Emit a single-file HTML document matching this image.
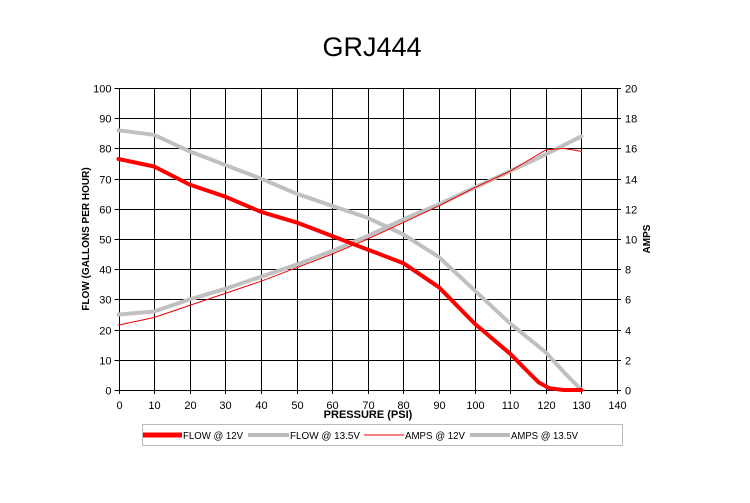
<!DOCTYPE html>
<html><head><meta charset="utf-8"><style>
body{margin:0;background:#fff;width:750px;height:498px;overflow:hidden;font-family:"Liberation Sans",Arial,sans-serif}
</style></head><body>
<svg id="s" width="750" height="498" xmlns="http://www.w3.org/2000/svg" font-family="Liberation Sans, Arial, sans-serif">
<text x="372" y="56" font-size="27" text-anchor="middle">GRJ444</text>
<g id="grid" stroke="#000" stroke-width="1"></g>
<g id="lbl" font-size="11" fill="#000"></g>
<text x="368" y="418" font-size="11" font-weight="bold" text-anchor="middle">PRESSURE (PSI)</text>
<text transform="translate(89,239) rotate(-90)" font-size="10" font-weight="bold" text-anchor="middle">FLOW (GALLONS PER HOUR)</text>
<text transform="translate(650,239) rotate(-90)" font-size="10" font-weight="bold" text-anchor="middle">AMPS</text>
<g id="ser" fill="none" stroke-linejoin="round" stroke-linecap="round"></g>
<rect x="142.5" y="424.5" width="480" height="21" fill="none" stroke="#bbb"/>
<line x1="143" y1="435" x2="182" y2="435" stroke="#f00" stroke-width="5"/>
<text x="183" y="439" font-size="10.5" textLength="60" lengthAdjust="spacingAndGlyphs">FLOW @ 12V</text>
<line x1="248" y1="435" x2="289" y2="435" stroke="#bbb" stroke-width="4"/>
<text x="290" y="439" font-size="10.5" textLength="70" lengthAdjust="spacingAndGlyphs">FLOW @ 13.5V</text>
<line x1="364" y1="435" x2="404" y2="435" stroke="#e00" stroke-width="1"/>
<text x="405" y="439" font-size="10.5" textLength="60" lengthAdjust="spacingAndGlyphs">AMPS @ 12V</text>
<line x1="470" y1="435" x2="510" y2="435" stroke="#bbb" stroke-width="4"/>
<text x="511" y="439" font-size="10.5" textLength="67" lengthAdjust="spacingAndGlyphs">AMPS @ 13.5V</text>
</svg>
<script>
var X0=118.5,X1=617,Y0=390,Y1=88;
function px(v){return X0+(X1-X0)*v/140}
function py(v){return Y0-(Y0-Y1)*v/100}
var g=document.getElementById('grid'),l=document.getElementById('lbl'),ns='http://www.w3.org/2000/svg';
function el(p,t,a,txt){var e=document.createElementNS(ns,t);for(var k in a)e.setAttribute(k,a[k]);if(txt!=null)e.textContent=txt;p.appendChild(e);}
for(var i=0;i<=14;i++){var x=Math.round(px(i*10))+.5;el(g,'line',{x1:x,y1:Y1,x2:x,y2:Y0+4});el(l,'text',{x:x,y:Y0+19,'text-anchor':'middle'},i*10);}
for(var j=0;j<=10;j++){var y=Math.round(py(j*10))+.5;el(g,'line',{x1:X0-4,y1:y,x2:X1+4,y2:y});el(l,'text',{x:X0-7,y:y+4,'text-anchor':'end'},j*10);el(l,'text',{x:X1+8,y:y+4},j*2);}
var s=document.getElementById('ser');
function path(d,amp,col,w){var p='';d.forEach(function(q,k){p+=(k?'L':'M')+px(q[0]).toFixed(1)+','+py(amp?q[1]*5:q[1]).toFixed(1)});el(s,'path',{d:p,stroke:col,'stroke-width':w});}
path([[0,5],[10,5.2],[20,6],[30,6.7],[40,7.5],[50,8.3],[60,9.2],[70,10.2],[80,11.3],[90,12.3],[100,13.4],[110,14.5],[120,15.6],[130,16.8]],1,'#c0c0c0',4);
path([[0,86],[10,84.5],[20,79],[30,74.5],[40,70],[50,65],[60,61],[70,57],[80,51.5],[90,44],[100,33],[110,22],[120,12.5],[125,6],[130,0]],0,'#c0c0c0',4);
path([[0,4.3],[10,4.8],[20,5.6],[30,6.4],[40,7.2],[50,8.1],[60,9],[70,10],[80,11.1],[90,12.2],[100,13.4],[110,14.5],[115,15.2],[120,15.9],[125,16],[130,15.8]],1,'#e00',1);
path([[0,76.5],[10,74],[20,68],[30,64],[40,59],[50,55.5],[60,51],[70,46.5],[80,42],[90,34],[100,22],[110,12],[115,6],[118,2.5],[121,0.6],[125,0],[130,0]],0,'#f00',4);
</script>
</body></html>
